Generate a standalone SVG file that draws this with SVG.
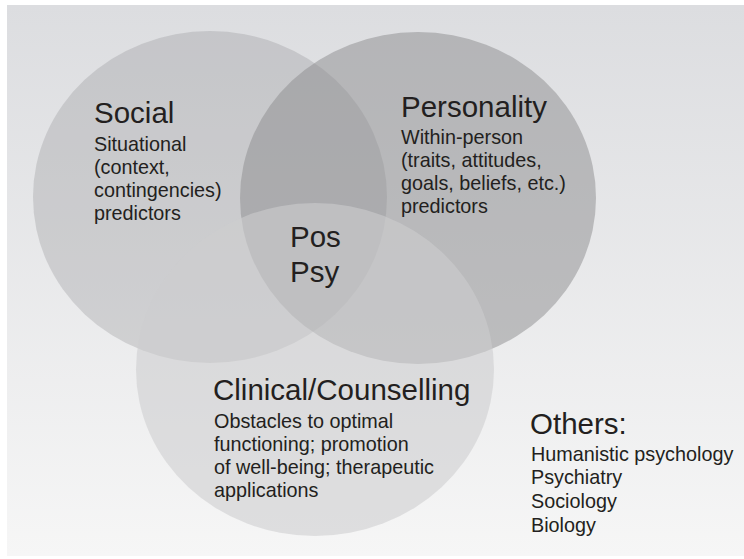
<svg xmlns="http://www.w3.org/2000/svg" width="744" height="559" viewBox="0 0 744 559">
  <defs>
    <linearGradient id="bg" x1="0" y1="0" x2="0" y2="1">
      <stop offset="0" stop-color="#dcdde0"/>
      <stop offset="1" stop-color="#f6f6f6"/>
    </linearGradient>
  </defs>
  <style>
    text { font-family: "Liberation Sans", Arial, Helvetica, sans-serif; fill: #231f20; }
    .h { font-size: 29.5px; }
    .b { font-size: 19.8px; }
  </style>
  <rect x="0" y="0" width="744" height="559" fill="#ffffff"/>
  <rect x="7" y="5" width="737" height="551" fill="url(#bg)"/>

  <g id="social">
    <ellipse cx="210" cy="197" rx="177" ry="166" fill="#8e8f92" fill-opacity="0.3"/>
  </g>
  <g id="personality">
    <ellipse cx="418" cy="198" rx="178" ry="166" fill="#8c8c8e" fill-opacity="0.5"/>
  </g>
  <g id="clinical">
    <ellipse cx="315" cy="369.5" rx="179" ry="166.5" fill="#cdcdcf" fill-opacity="0.58"/>
  </g>

  <g id="social-text">
    <text class="h" x="94" y="123">Social</text>
    <text class="b" x="94" y="151">Situational</text>
    <text class="b" x="94" y="174">(context,</text>
    <text class="b" x="94" y="197">contingencies)</text>
    <text class="b" x="94" y="220">predictors</text>
  </g>
  <g id="personality-text">
    <text class="h" x="401" y="117">Personality</text>
    <text class="b" x="401" y="144">Within-person</text>
    <text class="b" x="401" y="167">(traits, attitudes,</text>
    <text class="b" x="401" y="190">goals, beliefs, etc.)</text>
    <text class="b" x="401" y="213">predictors</text>
  </g>
  <g id="pospsy">
    <text class="h" x="290" y="247">Pos</text>
    <text class="h" x="290" y="282">Psy</text>
  </g>
  <g id="clinical-text">
    <text class="h" x="213" y="400">Clinical/Counselling</text>
    <text class="b" x="214" y="428">Obstacles to optimal</text>
    <text class="b" x="214" y="451">functioning; promotion</text>
    <text class="b" x="214" y="474">of well-being; therapeutic</text>
    <text class="b" x="214" y="497">applications</text>
  </g>
  <g id="others">
    <text class="h" x="530" y="434">Others:</text>
    <text class="b" x="531" y="461">Humanistic psychology</text>
    <text class="b" x="531" y="484">Psychiatry</text>
    <text class="b" x="531" y="508">Sociology</text>
    <text class="b" x="531" y="532">Biology</text>
  </g>
</svg>
